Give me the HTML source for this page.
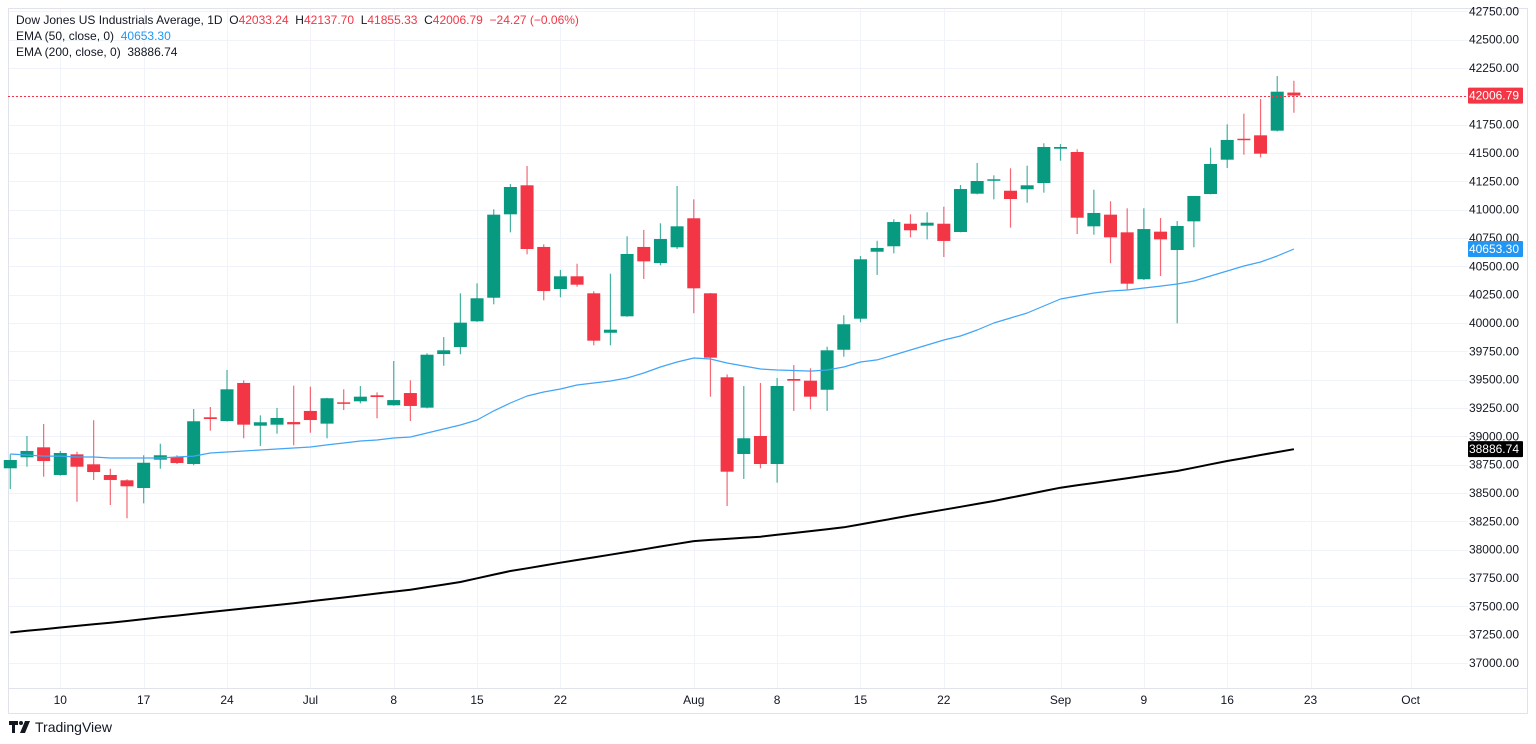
<!DOCTYPE html>
<html><head><meta charset="utf-8">
<style>
html,body{margin:0;padding:0;background:#fff;width:1536px;height:744px;overflow:hidden;font-family:"Liberation Sans",sans-serif;}
#chart{position:absolute;left:0;top:0;}
.legend{position:absolute;left:16px;font-size:12px;color:#131722;white-space:nowrap;}
.logo{position:absolute;left:9px;top:719px;font-size:14px;color:#131722;display:flex;align-items:center;gap:4px;}
</style></head>
<body>
<svg id="chart" width="1536" height="744" xmlns="http://www.w3.org/2000/svg"></svg>
<div class="legend" style="top:13px">Dow Jones US Industrials Average, 1D&nbsp; O<span style="color:#f23645">42033.24</span>&nbsp; H<span style="color:#f23645">42137.70</span>&nbsp; L<span style="color:#f23645">41855.33</span>&nbsp; C<span style="color:#f23645">42006.79</span>&nbsp; <span style="color:#f23645">−24.27 (−0.06%)</span></div>
<div class="legend" style="top:29px">EMA (50, close, 0)&nbsp; <span style="color:#2196f3">40653.30</span></div>
<div class="legend" style="top:45px">EMA (200, close, 0)&nbsp; 38886.74</div>
<div class="logo"><svg width="22" height="12" viewBox="0 0 22 12"><path d="M0 0h9v4H6v8H3V4H0z" fill="#131722"/><circle cx="12" cy="2" r="2" fill="#131722"/><path d="M16 0h5l-5 12h-5z" fill="#131722"/></svg><span>TradingView</span></div>
<script>
const opens=[38718,38815,38903,38659,38841,38753,38659,38612,38544,38794,38818,38756,39168,39135,39471,39094,39103,39126,39224,39112,39300,39309,39362,39274,39382,39253,39726,39788,40015,40223,40959,41215,40671,40300,40412,40262,39914,40059,40671,40529,40668,40924,40262,39521,38844,39003,38756,39506,39491,39411,39764,40038,40629,40677,40876,40859,40876,40803,41141,41256,41167,41180,41235,41538,41509,40853,40956,40800,40386,40806,40644,40897,41138,41441,41626,41656,41697,42033.24];
const highs=[38841,39003,39109,38871,38864,39142,38714,38621,38833,38935,38833,39241,39259,39585,39494,39185,39250,39447,39438,39340,39415,39444,39388,39665,39494,39733,39876,40262,40350,41003,41226,41385,40694,40468,40523,40280,40435,40765,40821,40880,41209,41091,40265,39547,39444,39471,39515,39629,39600,39791,40068,40591,40726,40915,40959,40977,41026,41218,41412,41303,41365,41388,41586,41579,41533,41176,41074,41012,41012,40926,40900,41121,41547,41753,41847,41976,42179,42137.70];
const lows=[38535,38732,38644,38653,38423,38615,38394,38277,38409,38714,38756,38745,39050,39130,38983,38915,39023,38921,39032,38983,39232,39291,39159,39270,39135,39247,39623,39724,40010,40165,40800,40606,40200,40227,40320,39803,39803,40055,40388,40509,40653,40086,39350,38385,38624,38718,38591,39224,39239,39224,39703,40006,40424,40615,40756,40738,40582,40800,41135,41091,40841,41061,41150,41432,40785,40779,40527,40291,40380,40415,39997,40668,41135,41368,41485,41462,41690,41855.33];
const closes=[38791,38871,38782,38853,38732,38685,38615,38559,38767,38833,38765,39133,39153,39415,39103,39124,39162,39106,39144,39336,39288,39350,39347,39320,39268,39720,39759,40003,40218,40956,41200,40653,40282,40412,40338,39844,39941,40609,40544,40741,40853,40306,39694,38688,38983,38756,39444,39491,39350,39759,39989,40562,40662,40891,40818,40885,40724,41182,41253,41268,41094,41215,41553,41553,40929,40971,40756,40347,40829,40738,40856,41121,41403,41615,41617,41494,42041,42006.79];
const ema50=[38844,38835,38826,38826,38818,38818,38809,38809,38809,38809,38818,38826,38853,38862,38871,38879,38888,38897,38906,38924,38941,38959,38968,38985,38994,39029,39065,39100,39144,39224,39294,39356,39391,39418,39453,39471,39488,39515,39559,39612,39656,39691,39682,39647,39621,39594,39585,39581,39576,39585,39612,39656,39674,39718,39762,39806,39850,39885,39938,40000,40044,40088,40150,40212,40238,40265,40282,40291,40309,40326,40344,40371,40415,40459,40503,40538,40591,40653.30];
const ema200=[37269,37284,37298,37313,37327,37342,37356,37371,37387,37403,37418,37434,37450,37465,37481,37497,37512,37528,37544,37561,37578,37596,37613,37630,37647,37670,37692,37715,37747,37780,37812,37836,37860,37885,37909,37932,37956,37979,38003,38028,38052,38076,38086,38095,38105,38114,38131,38147,38164,38181,38197,38223,38249,38276,38302,38328,38353,38378,38404,38429,38459,38488,38518,38547,38568,38588,38609,38630,38652,38673,38694,38723,38753,38782,38808,38835,38861,38886.74];
const timeLabels=["10","17","24","Jul","8","15","22","Aug","8","15","22","Sep","9","16","23","Oct"];
const timeIdx=[3,8,13,18,23,28,33,41,46,51,56,63,68,73,78,84];
const priceTicks=[37000,37250,37500,37750,38000,38250,38500,38750,39000,39250,39500,39750,40000,40250,40500,40750,41000,41250,41500,41750,42000,42250,42500,42750];
const lastPrice=42006.79, lastEma50=40653.30, lastEma200=38886.74;

const NS="http://www.w3.org/2000/svg";
const svg=document.getElementById('chart');
const L=8,R=1468,T=8,B=688,AXR=1527,BOT=713;
const X=i=>10.3+16.67*i;
const Y=p=>323-(p-40000)*0.113333;
function mk(tag,attrs,parent){const e=document.createElementNS(NS,tag);for(const k in attrs)e.setAttribute(k,attrs[k]);(parent||svg).appendChild(e);return e;}

const grid=mk('g',{});


priceTicks.forEach(p=>{const y=Math.round(Y(p))+0.5;const l=mk('line',{x1:L,x2:R,y1:y,y2:y,stroke:'#f0f3fa','stroke-width':1},grid);

});
timeIdx.forEach(i=>{const x=Math.round(X(i))+0.5;const l=mk('line',{x1:x,x2:x,y1:T,y2:B,stroke:'#f0f3fa','stroke-width':1},grid);

});

const fr=mk('g',{});


mk('rect',{x:L+0.5,y:T+0.5,width:AXR-L,height:BOT-T,fill:'none',stroke:'#e0e3eb'},fr);
mk('line',{x1:L,x2:AXR,y1:B+0.5,y2:B+0.5,stroke:'#e0e3eb'},fr);

const cg=mk('g',{});


opens.forEach((o,i)=>{
  const c=closes[i],up=c>=o,col=up?'#089981':'#f23645';
  const g=mk('g',{},cg);
  
  
  const x=X(i);
  mk('line',{x1:x,x2:x,y1:Y(highs[i]),y2:Y(lows[i]),stroke:col,'stroke-width':1.2,'stroke-opacity':0.75},g);
  const y1=Y(Math.max(o,c)),y2=Y(Math.min(o,c));
  mk('rect',{x:x-6.5,y:y1,width:13,height:Math.max(1.5,y2-y1),fill:col},g);
});

function line(arr,col,w,name){
  const d=arr.map((v,i)=>(i?'L':'M')+X(i).toFixed(1)+' '+Y(v).toFixed(1)).join(' ');
  const p=mk('path',{d:d,fill:'none',stroke:col,'stroke-width':w,'stroke-linejoin':'round'});
  
  
}
line(ema50,'#42a5f5',1.2,'ema50-line');
line(ema200,'#000',2,'ema200-line');

const yl=Math.round(Y(lastPrice))+0.5;
const pl=mk('line',{x1:L,x2:R,y1:yl,y2:yl,stroke:'#f23645','stroke-width':1,'stroke-dasharray':'2 2'});



const ax=mk('g',{'font-family':'Liberation Sans, sans-serif','font-size':12,fill:'#131722'});


priceTicks.forEach(p=>{const t=mk('text',{x:1519,y:Y(p)+4,'text-anchor':'end'},ax);t.textContent=p.toFixed(2);

});

function badge(v,col,name){
  const y=Y(v);const g=mk('g',{});
  
  
  mk('rect',{x:1468,y:y-8,width:55,height:16,fill:col,rx:1},g);
  const t=mk('text',{x:1519,y:y+4,'text-anchor':'end','font-family':'Liberation Sans, sans-serif','font-size':12,fill:'#fff'},g);
  t.textContent=v.toFixed(2);
}
badge(lastEma200,'#000','ema200-badge');
badge(lastEma50,'#2196f3','ema50-badge');
badge(lastPrice,'#f23645','last-price-badge');

const tx=mk('g',{'font-family':'Liberation Sans, sans-serif','font-size':12,fill:'#131722'});


timeLabels.forEach((s,k)=>{const t=mk('text',{x:X(timeIdx[k]),y:704,'text-anchor':'middle'},tx);t.textContent=s;

});
</script>
</body></html>
